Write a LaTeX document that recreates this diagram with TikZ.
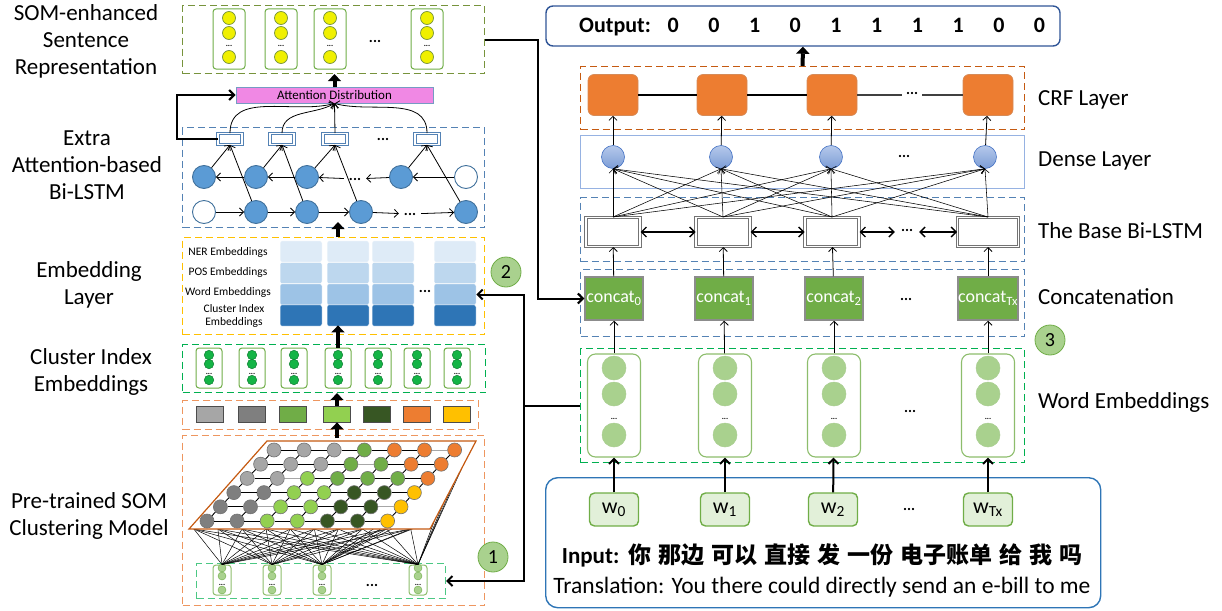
\documentclass[tikz,border=0pt]{standalone}
\usepackage{fontspec}
\setmainfont{Carlito}
\newfontfamily\cjk{Noto Sans CJK SC}
\usetikzlibrary{arrows.meta,calc,positioning}
\definecolor{OliveClr}{RGB}{119,147,60}
\definecolor{LeafClr}{RGB}{112,173,71}
\definecolor{PaleLeafClr}{RGB}{169,209,142}
\definecolor{MintClr}{RGB}{226,240,217}
\definecolor{GreenDashClr}{RGB}{0,176,80}
\definecolor{EmeraldClr}{RGB}{20,180,70}
\definecolor{SteelClr}{RGB}{84,130,180}
\definecolor{BallClr}{RGB}{91,155,213}
\definecolor{BallEdgeClr}{RGB}{65,113,156}
\definecolor{PinkClr}{RGB}{240,136,228}
\definecolor{GoldClr}{RGB}{255,192,0}
\definecolor{NerClr}{RGB}{222,235,247}
\definecolor{PosClr}{RGB}{189,215,238}
\definecolor{WrdClr}{RGB}{157,195,230}
\definecolor{CluClr}{RGB}{46,117,182}
\definecolor{PeachClr}{RGB}{238,150,95}
\definecolor{RustClr}{RGB}{197,90,17}
\definecolor{OrangeClr}{RGB}{237,125,49}
\definecolor{LavClr}{RGB}{150,178,226}
\definecolor{RoyalClr}{RGB}{68,114,196}
\definecolor{NavyClr}{RGB}{47,85,151}
\definecolor{SkyClr}{RGB}{46,117,182}
\definecolor{LemonClr}{RGB}{240,240,0}
\definecolor{SomL}{RGB}{166,166,166}
\definecolor{SomD}{RGB}{127,127,127}
\definecolor{SomM}{RGB}{112,173,71}
\definecolor{SomB}{RGB}{146,208,80}
\definecolor{SomK}{RGB}{55,86,35}
\definecolor{SomO}{RGB}{237,125,49}
\definecolor{SomY}{RGB}{255,192,0}

\tikzset{
  layer/.style={draw,dash pattern=on 7pt off 4pt,line width=1.1pt,anchor=north west,inner sep=0pt},
  lbl/.style={align=center,inner sep=0pt,font=\fontsize{23}{27}\selectfont},
  rlbl/.style={anchor=west,inner sep=0pt,font=\fontsize{23}{26}\selectfont},
  embtxt/.style={inner sep=0pt,font=\fontsize{11.5}{13}\selectfont},
  dotsn/.style={anchor=base,inner sep=0pt,font=\bfseries\fontsize{15}{15}\selectfont},
  tinydots/.style={anchor=base,inner sep=0pt,font=\bfseries\fontsize{8}{8}\selectfont},
  vecbox/.style={draw=LeafClr,line width=1pt,rounded corners=3pt,fill=white,inner sep=0pt},
  ydot/.style={circle,inner sep=0pt,minimum size=13,fill=LemonClr,draw=OliveClr,line width=.7pt},
  gdot/.style={circle,inner sep=0pt,minimum size=9.5,fill=EmeraldClr,draw=EmeraldClr!70!black,line width=.5pt},
  pdot/.style={circle,inner sep=0pt,minimum size=8,fill=PaleLeafClr,draw=LeafClr,line width=.4pt},
  bluedot/.style={circle,inner sep=0pt,minimum size=23,fill=BallClr,draw=BallEdgeClr,line width=.9pt},
  hbox/.style={draw=SteelClr,double=white,double distance=1.4pt,line width=.9pt,fill=white,minimum width=24,minimum height=11,inner sep=0pt},
  cell/.style={rounded corners=2pt,draw=white,line width=.5pt,minimum width=42,minimum height=21.3,inner sep=0pt},
  swatch/.style={draw=black!70,line width=.8pt,minimum width=27,minimum height=16,inner sep=0pt},
  sball/.style={circle,inner sep=0pt,minimum size=14,draw=black!55,line width=.6pt},
  somedge/.style={line width=.9pt},
  fan/.style={line width=.5pt},
  numc/.style={circle,minimum size=30,inner sep=0pt,fill=PaleLeafClr,draw=LeafClr,line width=.8pt,font=\fontsize{20}{20}\selectfont},
  thinarr/.style={line width=.8pt,-{Straight Barb[length=4pt,width=8pt]}},
  fatarr/.style={line width=4pt,-{Triangle[length=7pt,width=13pt]}},
  busarr/.style={line width=2pt,-{Straight Barb[length=5pt,width=10pt]}},
  dblarr/.style={line width=1.3pt,{Straight Barb[length=5pt,width=10pt]}-{Straight Barb[length=5pt,width=10pt]}},
  wordarr/.style={line width=2pt,-{Straight Barb[length=5pt,width=10pt]}},
  crfsq/.style={rounded corners=6pt,fill=OrangeClr,draw=RustClr!70,line width=.7pt,minimum width=50,minimum height=41,inner sep=0pt},
  dball/.style={circle,inner sep=0pt,minimum size=23,top color=LavClr!70,bottom color=RoyalClr!70,draw=RoyalClr,line width=.6pt},
  lstmbox/.style={draw=black!55,double=white,double distance=1.4pt,line width=1pt,fill=white,minimum height=29,inner sep=0pt},
  catbox/.style={fill=LeafClr,draw=black!45,line width=1.5pt,minimum width=58,minimum height=43,inner sep=0pt,text=white,font=\fontsize{18}{18}\selectfont},
  wordbox/.style={rounded corners=8pt,draw=LeafClr!80,line width=1.1pt,fill=white,minimum width=53,minimum height=103,inner sep=0pt},
  wdot/.style={circle,inner sep=0pt,minimum size=24,fill=PaleLeafClr,draw=LeafClr!60,line width=.5pt},
  wbox/.style={rounded corners=5pt,fill=MintClr,draw=LeafClr,line width=1.4pt,minimum width=49,minimum height=33,inner sep=0pt,font=\fontsize{22}{22}\selectfont},
  crfline/.style={line width=1.4pt}
}

\begin{document}
\begin{tikzpicture}[x=1pt,y=-1pt]
\useasboundingbox (0,0) rectangle (1222,610);
\newcommand{\OutBit}[1]{\makebox[40.7pt]{#1}}

\node[lbl] (tsent) at (86,41) {SOM-enhanced\\Sentence\\Representation};
\node[lbl] (txtra) at (87,165) {Extra\\Attention-based\\Bi-LSTM};
\node[lbl] (temb) at (89,285) {Embedding\\Layer};
\node[lbl] (tclus) at (91,372) {Cluster Index\\Embeddings};
\node[lbl] (tsom) at (89,516) {Pre-trained SOM\\Clustering Model};

\node[layer,draw=OliveClr,minimum width=302,minimum height=68] (sent) at (182,5) {};
\foreach \x [count=\i] in {229,281,330,427}{
  \node[vecbox,minimum width=32,minimum height=60] (s\i) at (\x,39) {};
  \foreach \y [count=\j] in {18,33,57}
    \node[ydot] (s\i-\j) at (\x,\y) {};
  \node[tinydots] (s\i-d) at (\x,47) {...};
}
\node[dotsn] (sdots) at (375,42) {...};

\node[draw=SteelClr!80,fill=PinkClr,line width=.9pt,minimum width=197,minimum height=16,inner sep=0pt,font=\fontsize{13}{13}\selectfont] (att) at (334.5,95) {Attention Distribution};
\draw[fatarr] (att.north) -- (att.north |- sent.south);

\node[layer,draw=SteelClr,minimum width=302,minimum height=100] (xbox) at (182,127) {};
\foreach \x [count=\i] in {230,282,335,427}
  \node[hbox] (h\i) at (\x,139) {};
\node[dotsn] (hdots) at (383,140) {...};
\foreach \x [count=\i] in {204,256,307,401}
  \node[bluedot] (bw\i) at (\x,177) {};
\node[bluedot,fill=white] (bw5) at (466,177) {};
\node[bluedot,fill=white] (fw1) at (204,212) {};
\foreach \x [count=\i from 2] in {256,307,361,466}
  \node[bluedot] (fw\i) at (\x,212) {};
\node[dotsn] (bdots) at (355,180) {...};
\node[dotsn] (fdots) at (410,215) {...};

\draw[thinarr] (bw5) -- (bw4);
\draw[thinarr,shorten >=5pt] (bw4) -- (bdots);
\draw[thinarr,shorten <=5pt] (bdots) -- (bw3);
\draw[thinarr] (bw3) -- (bw2);
\draw[thinarr] (bw2) -- (bw1);
\draw[thinarr] (fw1) -- (fw2);
\draw[thinarr] (fw2) -- (fw3);
\draw[thinarr] (fw3) -- (fw4);
\draw[thinarr,shorten >=5pt] (fw4) -- (fdots);
\draw[thinarr,shorten <=5pt] (fdots) -- (fw5);
\foreach \i [count=\j from 2] in {1,...,4}{
  \draw[thinarr] (bw\i) -- (h\i.south);
  \draw[thinarr] (fw\j) -- (h\i.south);
}
\draw[thinarr] (h1.north) to[out=90,in=-165] (att.south);
\draw[thinarr] (h2.north) to[out=90,in=-150] (att.south);
\draw[thinarr] (h3.north) -- (att.south);
\draw[thinarr] (h4.north) to[out=90,in=-15] (att.south);
\draw[busarr] (h1.west) -- ++(-41,0) |- (att.west);

\node[layer,draw=GoldClr,minimum width=302,minimum height=97] (emb) at (182,237) {};
\node[embtxt] (lner) at (228,252) {NER Embeddings};
\node[embtxt] (lpos) at (228,272) {POS Embeddings};
\node[embtxt] (lwrd) at (228,292) {Word Embeddings};
\node[embtxt,align=center] (lclu) at (234,316) {Cluster Index\\Embeddings};
\foreach \x [count=\i] in {301,348,393,455}{
  \node[cell,fill=NerClr] (ner\i) at (\x,251.5) {};
  \node[cell,fill=PosClr] (pos\i) at (\x,273) {};
  \node[cell,fill=WrdClr] (wrd\i) at (\x,294.5) {};
  \node[cell,fill=CluClr] (clu\i) at (\x,315.5) {};
}
\node[dotsn] (edots) at (425,292) {...};
\node[numc] (n2) at (506,272) {2};

\node[layer,draw=GreenDashClr,minimum width=303,minimum height=48] (clus) at (182,344) {};
\foreach \x [count=\i] in {209,252,294,338,378,417,457}{
  \node[vecbox,minimum width=26,minimum height=40] (k\i) at (\x,368) {};
  \foreach \y [count=\j] in {355,364,380}
    \node[gdot] (k\i-\j) at (\x,\y) {};
  \node[tinydots] (k\i-d) at (\x,374) {...};
}
\draw[fatarr,shorten >=-1pt] (k4.north) -- (k4.north |- clu2.south);
\draw[fatarr,shorten >=-6pt] (k4 |- emb.north) -- (k4 |- xbox.south);

\node[layer,draw=PeachClr,minimum width=296,minimum height=29] (pal) at (182,400) {};
\foreach \x/\c [count=\i] in {210/SomL,252/SomD,293/SomM,337/SomB,377/SomK,417/SomO,457/SomY}
  \node[swatch,fill=\c] (c\i) at (\x,414) {};
\draw[fatarr] (c4.north) -- (c4.north |- clus.south);

\node[layer,draw=PeachClr,minimum width=302,minimum height=170] (som) at (182,435) {};
\draw[fatarr,shorten <=-3pt] (c4 |- som.north) -- (c4.south);
\coordinate (P1) at (189,529);
\coordinate (P2) at (430,529);
\coordinate (P3) at (476,441);
\coordinate (P4) at (267,441);

\node[layer,draw=GreenDashClr!70,minimum width=249,minimum height=35] (inp) at (196,563) {};
\foreach \x [count=\i] in {222,272,322,418}{
  \node[vecbox,draw=LeafClr!80,minimum width=18,minimum height=30] (x\i) at (\x,580) {};
  \foreach \y [count=\j] in {568,576,590}
    \node[pdot] (x\i-\j) at (\x,\y) {};
  \node[tinydots] (x\i-d) at (\x,585) {...};
}
\node[dotsn] (xdots) at (372,586) {...};
\foreach \f [count=\k] in {0.02,0.12,0.22,0.32,0.42,0.52,0.62,0.72,0.82,0.92}
  \coordinate (b\k) at ($(P1)!\f!(P2)$);
\foreach \f [count=\k] in {0.1,0.3,0.5,0.7}
  \coordinate (e\k) at ($(P2)!\f!(P3)$);
\foreach \i in {1,...,4}
  \foreach \k in {1,...,10}
    \draw[fan] (x\i.north) -- (b\k);
\foreach \k in {1,...,4}{
  \draw[fan] (x4.north) -- (e\k);
  \draw[fan] (x3.north) -- (e\k);
}

\draw[RustClr,line width=1.2pt,fill=white] (P1) -- (P2) -- (P3) -- (P4) -- cycle;
\foreach \r/\row in {0/{SomL,SomL,SomL,SomM,SomO,SomO,SomO},
                     1/{SomL,SomL,SomL,SomM,SomM,SomO,SomO},
                     2/{SomL,SomL,SomB,SomM,SomM,SomM,SomO},
                     3/{SomD,SomD,SomB,SomB,SomK,SomK,SomY},
                     4/{SomD,SomD,SomB,SomB,SomK,SomK,SomY},
                     5/{SomD,SomD,SomB,SomB,SomK,SomK,SomY}}
  \foreach \c [count=\k from 0] in \row
    \node[sball,fill=\c] (g\r\k) at ({274+30.1*\k-13.4*\r},{450+14.2*\r}) {};
\foreach \r in {0,...,5}
  \foreach \k [count=\n] in {0,...,5}
    \draw[somedge] (g\r\k) -- (g\r\n);
\foreach \r [count=\n] in {0,...,4}
  \foreach \k in {0,...,6}
    \draw[somedge] (g\r\k) -- (g\n\k);
\foreach \a/\b in {g05/g06,g13/g14,g21/g22,g41/g42,g45/g46}
  \draw[somedge,draw=black!35] (\a) -- (\b);
\node[numc] (n1) at (493,557) {1};

\node[draw=NavyClr,line width=1.4pt,rounded corners=7pt,minimum width=514,minimum height=40,inner sep=0pt] (out) at (803,26) {};
\node[anchor=west,inner sep=0pt,font=\bfseries\fontsize{22}{22}\selectfont] (outtxt) at (579,27) {Output:\hspace{2pt}\OutBit{0}\OutBit{0}\OutBit{1}\OutBit{0}\OutBit{1}\OutBit{1}\OutBit{1}\OutBit{1}\OutBit{0}\OutBit{0}};

\node[layer,draw=RustClr,minimum width=444,minimum height=63] (crf) at (580,66) {};
\foreach \x [count=\i] in {613,722,832,988}
  \node[crfsq] (f\i) at (\x,95) {};
\node[dotsn] (crfdots) at (912,94) {...};
\draw[crfline] (f1) -- (f2);
\draw[crfline] (f2) -- (f3);
\draw[crfline,black!75,shorten >=4pt] (f3.east) -- (f3.east -| crfdots.west);
\draw[crfline,black!75,shorten <=4pt] (f4.west -| crfdots.east) -- (f4.west);
\draw[fatarr] (crf.north) -- (out.south);

\node[layer,solid,draw=LavClr,line width=.9pt,minimum width=444,minimum height=53] (dense) at (580,135) {};
\foreach \x [count=\i] in {613,721,831,985}
  \node[dball] (ds\i) at (\x,157) {};
\node[dotsn] (dsdots) at (904,157) {...};
\foreach \i in {1,...,4}
  \draw[thinarr] (ds\i) -- (f\i);

\node[layer,draw=SteelClr,minimum width=444,minimum height=64] (base) at (580,197) {};
\foreach \x/\w [count=\i] in {613/54,723/54,832/54,988/61}
  \node[lstmbox,minimum width=\w] (lstm\i) at (\x,232) {};
\node[dotsn] (ldots) at (907,231) {...};
\draw[dblarr] (lstm1) -- (lstm2);
\draw[dblarr] (lstm2) -- (lstm3);
\draw[dblarr,shorten >=6pt] (lstm3.east) -- (lstm3.east -| ldots.west);
\draw[dblarr,shorten <=6pt] (lstm4.west -| ldots.east) -- (lstm4.west);
\foreach \i in {1,...,4}
  \foreach \j in {1,...,4}
    \draw[thinarr,line width=.55pt] (lstm\i.north) -- (ds\j.south);

\node[layer,draw=SteelClr,minimum width=444,minimum height=67] (cat) at (580,269) {};
\foreach \x/\s [count=\i] in {614/0,724/1,834/2,988/Tx}
  \node[catbox] (cc\i) at (\x,298.5) {concat\textsubscript{\s}};
\node[dotsn] (cdots) at (906,300) {...};
\foreach \i in {1,...,4}
  \draw[thinarr] (cc\i) -- (lstm\i);
\node[numc] (n3) at (1050,340) {3};

\node[layer,draw=GreenDashClr,minimum width=444,minimum height=114] (wemb) at (580,348) {};
\foreach \x [count=\i] in {614,725,834,988}{
  \node[wordbox] (we\i) at (\x,405.5) {};
  \foreach \y [count=\j] in {368,394,435}
    \node[wdot] (we\i-\j) at (\x,\y) {};
  \node[tinydots] (we\i-d) at (\x,419) {...};
}
\node[dotsn] (wdots) at (910,412) {...};
\foreach \i in {1,...,4}
  \draw[thinarr] (we\i) -- (cc\i);

\node[draw=SkyClr,line width=1.4pt,rounded corners=12pt,minimum width=555,minimum height=130,anchor=north west,inner sep=0pt] (input) at (545,477) {};
\foreach \x/\s [count=\i] in {614/0,725/1,833/2,988/Tx}
  \node[wbox] (in\i) at (\x,509.5) {w\textsubscript{\s}};
\node[dotsn] (indots) at (909,510) {...};
\foreach \i in {1,...,4}
  \draw[wordarr] (in\i) -- (we\i);
\node[font=\fontsize{23}{26}\selectfont,inner sep=0pt] (insent) at (822,555) {\spaceskip=7pt\textbf{Input:} {\cjk\bfseries\spaceskip=7pt 你 那边 可以 直接 发 一份 电子账单 给 我 吗}};
\node[font=\fontsize{23.5}{26}\selectfont,inner sep=0pt] (trans) at (822,587) {Translation: You there could directly send an e-bill to me};

\draw[busarr] (sent.east) -- ++(53,0) |- (cc1.west);
\draw[busarr] (wemb.west) -- ++(-56,0) |- (wrd4.east);
\draw[busarr] (wemb.west) -- ++(-56,0) |- (inp.east);

\node[rlbl] (tcrf) at (1038,100) {CRF Layer};
\node[rlbl] (tdense) at (1038,161) {Dense Layer};
\node[rlbl] (tbase) at (1038,231) {The Base Bi-LSTM};
\node[rlbl] (tcat) at (1038,297) {Concatenation};
\node[rlbl] (tword) at (1038,402) {Word Embeddings};

\end{tikzpicture}
\end{document}
